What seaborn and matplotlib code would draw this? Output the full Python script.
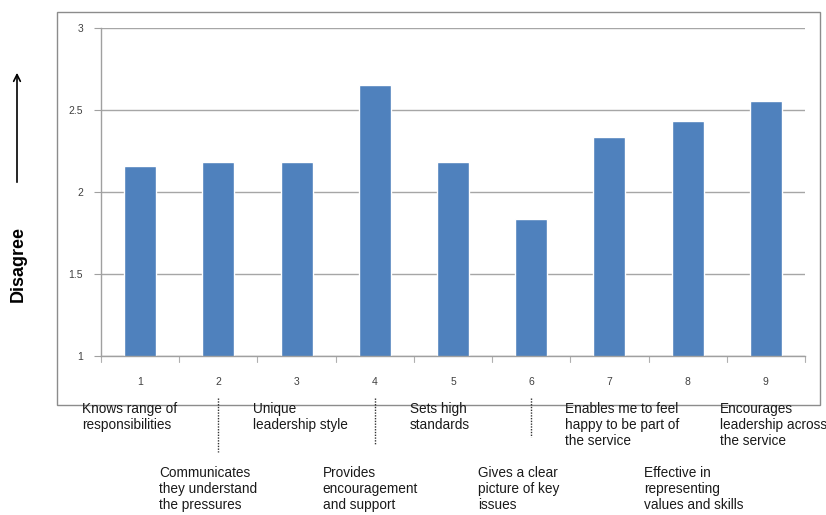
import matplotlib
matplotlib.use("Agg")
import matplotlib.pyplot as plt
from matplotlib.patches import Rectangle, FancyArrowPatch
import pandas as pd
import seaborn as sns

items = ["1", "2", "3", "4", "5", "6", "7", "8", "9"]
scores = [2.16, 2.18, 2.18, 2.65, 2.18, 1.835, 2.335, 2.43, 2.555]
descriptions = [
    "Knows range of\nresponsibilities",
    "Communicates\nthey understand\nthe pressures",
    "Unique\nleadership style",
    "Provides\nencouragement\nand support",
    "Sets high\nstandards",
    "Gives a clear\npicture of key\nissues",
    "Enables me to feel\nhappy to be part of\nthe service",
    "Effective in\nrepresenting\nvalues and skills",
    "Encourages\nleadership across\nthe service",
]
y_ticks = [1, 1.5, 2, 2.5, 3]

# horizontal offset (pixels) of each description's left edge from its bar centre
label_dx = [-58, -59, -44, -52, -43, -53, -44, -44, -46]

sns.set_theme(style="white")
plt.rcParams["font.family"] = ["Liberation Sans", "DejaVu Sans"]

df = pd.DataFrame({"item": items, "score": scores})

W, H = 826, 515
fig = plt.figure(figsize=(W / 100, H / 100), dpi=100)
fig.patch.set_facecolor("white")

# outer chart frame
fig.add_artist(Rectangle((57 / W, 1 - 405 / H), (820 - 57) / W, (405 - 12) / H,
                         transform=fig.transFigure, fill=False,
                         edgecolor="#8c8c8c", linewidth=1.0))

ax = fig.add_axes([101 / W, 1 - 356 / H, (805 - 101) / W, (356 - 28) / H])
sns.barplot(data=df, x="item", y="score", color="#4F81BD", saturation=1,
            width=0.41, ax=ax, bottom=0)
ax.set_ylim(1, 3)
ax.set_xlim(-0.5, len(items) - 0.5)
ax.set_yticks(y_ticks)
ax.set_yticklabels([f"{t:g}" for t in y_ticks], fontsize=7.5, color="#404040")
ax.set_xticks(range(len(items)))
ax.set_xticklabels(items, fontsize=7.5, color="#404040")
ax.tick_params(axis="x", length=0, pad=15)
ax.tick_params(axis="y", length=5, width=0.8, color="#a0a0a0", left=True, pad=8)
ax.yaxis.grid(True, color="#a6a6a6", linewidth=1.0)
ax.set_axisbelow(True)
ax.set_xlabel("")
ax.set_ylabel("")
for s in ["top", "right"]:
    ax.spines[s].set_visible(False)
for s in ["left", "bottom"]:
    ax.spines[s].set_color("#a0a0a0")
    ax.spines[s].set_linewidth(1.0)

# minor tick marks between categories
for b in range(len(items) + 1):
    ax.plot([b - 0.5, b - 0.5], [0, -0.018], transform=ax.get_xaxis_transform(),
            color="#b0b0b0", linewidth=0.8, clip_on=False)

# item descriptions below the axis, alternating rows
to_fig = fig.transFigure.inverted()
for i, text in enumerate(descriptions):
    x_fig = to_fig.transform(ax.transData.transform((i, 0)))[0]
    top = 1 - (402 if i % 2 == 0 else 466) / H
    fig.text(x_fig + label_dx[i] / W, top, text, ha="left", va="top",
             fontsize=9.8, color="#1a1a1a", linespacing=1.2)

# dashed connectors for the lower row
for i, y_end in [(1, 452), (3, 445), (5, 437)]:
    x_fig = to_fig.transform(ax.transData.transform((i, 0)))[0]
    fig.add_artist(plt.Line2D([x_fig, x_fig], [1 - 398 / H, 1 - y_end / H],
                              transform=fig.transFigure, color="#333333",
                              linewidth=1.0, linestyle=(0, (1, 1))))

# vertical axis title with arrow
fig.text(18 / W, 1 - 264 / H, "Disagree", rotation=90, ha="center", va="center",
         fontsize=13, fontweight="bold", color="black")
fig.add_artist(FancyArrowPatch((17 / W, 1 - 185 / H), (17 / W, 1 - 70 / H),
                               transform=fig.transFigure, arrowstyle="->",
                               mutation_scale=12, linewidth=1.2, color="black"))

fig.savefig("out.png", dpi=100, facecolor="white")
